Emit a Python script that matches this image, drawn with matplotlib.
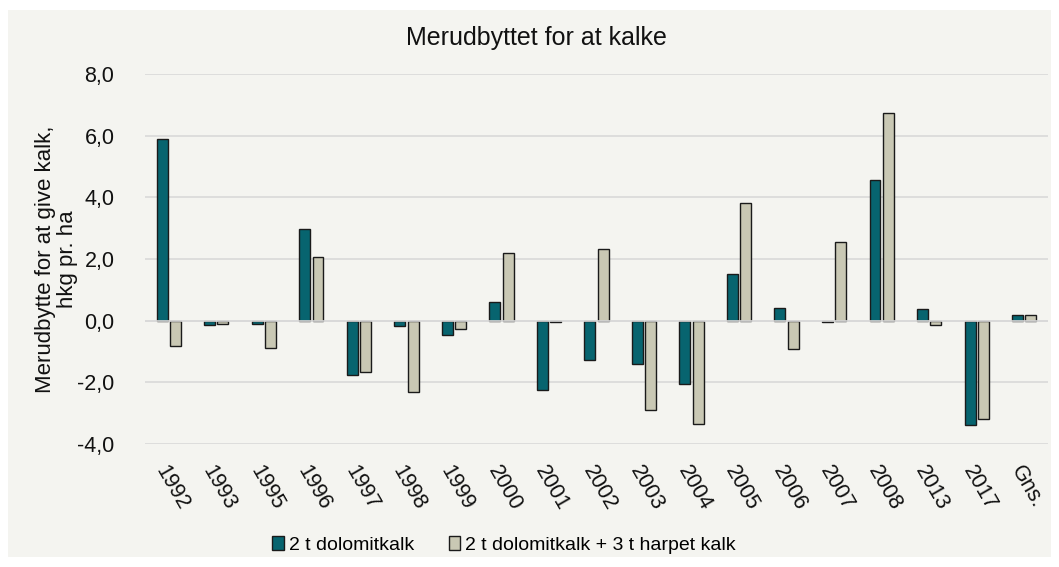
import matplotlib
matplotlib.use("Agg")
import matplotlib.pyplot as plt
from matplotlib.patches import Rectangle
import numpy as np

plt.rcParams['font.family'] = ['Liberation Sans', 'DejaVu Sans']

# data
years = ["1992", "1993", "1995", "1996", "1997", "1998", "1999", "2000", "2001", "2002",
         "2003", "2004", "2005", "2006", "2007", "2008", "2013", "2017", "Gns."]
dolomit = [5.90, -0.14, -0.10, 2.98, -1.75, -0.18, -0.46, 0.59, -2.25, -1.29,
           -1.42, -2.06, 1.51, 0.42, -0.05, 4.57, 0.37, -3.40, 0.18]
dolomit_harpet = [-0.83, -0.10, -0.88, 2.06, -1.65, -2.30, -0.28, 2.20, -0.05, 2.34,
                  -2.89, -3.35, 3.80, -0.93, 2.56, 6.73, -0.14, -3.20, 0.18]
series_names = ["2 t dolomitkalk", "2 t dolomitkalk + 3 t harpet kalk"]

teal = "#07646f"
beige = "#c9c8b4"
bg = "#f4f4f0"
txt = "#111111"

fig = plt.figure(figsize=(10.59, 5.67), dpi=100)
fig.patch.set_facecolor("white")
# grey panel behind everything
fig.patches.append(Rectangle((8 / 1059, 10 / 567), 1043 / 1059, 547 / 567,
                             transform=fig.transFigure, facecolor=bg,
                             edgecolor="none", zorder=-10))

ax = fig.add_axes([145 / 1059, 1 - 444 / 567, 903 / 1059, 370 / 567])
ax.set_facecolor(bg)
ax.set_zorder(1)

x = np.arange(len(years))
w = 0.23
ax.bar(x - 0.14, dolomit, w, color=teal, edgecolor="#1a1a1a", linewidth=1.0,
       label=series_names[0], zorder=3)
ax.bar(x + 0.14, dolomit_harpet, w, color=beige, edgecolor="#1a1a1a", linewidth=1.0,
       label=series_names[1], zorder=3)

ax.set_xlim(-0.5, len(years) - 0.5)
ax.set_ylim(-4, 8)
ax.set_yticks(np.arange(-4, 9, 2))
ax.set_yticklabels([f"{v:.1f}".replace(".", ",") for v in np.arange(-4, 9, 2)])
ax.yaxis.grid(True, color="#d9d9d9", linewidth=1.2, zorder=0)
ax.axhline(0, color="#d9d9d9", linewidth=1.2, zorder=4)
ax.set_axisbelow(True)
for s in ax.spines.values():
    s.set_visible(False)

ax.set_xticks(x)
ax.set_xticklabels(years, rotation=-60, ha="left", va="top", rotation_mode="anchor")
ax.tick_params(axis="both", length=0, labelsize=15.5, colors=txt)
ax.tick_params(axis="y", pad=22)
ax.tick_params(axis="x", pad=13)

fig.text(536 / 1059, 1 - 38 / 567, "Merudbyttet for at kalke", fontsize=18,
         ha="center", va="center", color=txt)
ax.set_ylabel("Merudbytte for at give kalk,\nhkg pr. ha", fontsize=16, color=txt,
              linespacing=1.05)
ax.yaxis.set_label_coords(-0.074, 0.5)

fig.legend(loc="center", bbox_to_anchor=(504 / 1059, 1 - 545 / 567), ncol=2,
           frameon=False, fontsize=14, handlelength=0.6, handleheight=0.7,
           handletextpad=0.25, columnspacing=1.8)

fig.savefig("out.png", dpi=100, facecolor=fig.get_facecolor())
